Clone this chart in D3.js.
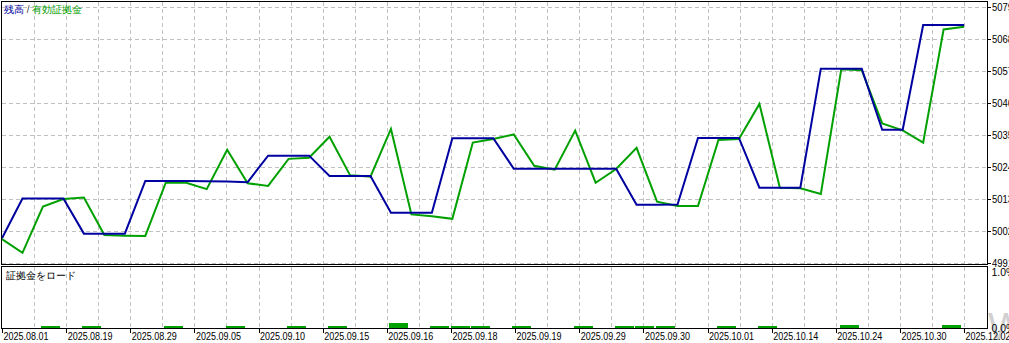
<!DOCTYPE html>
<html>
<head>
<meta charset="utf-8">
<script src="https://cdn.jsdelivr.net/npm/d3@7"></script>
<style>
  html, body { margin: 0; padding: 0; background: #fff; overflow: hidden; }
  svg { display: block; }
  text { font-family: "Liberation Sans", "DejaVu Sans", sans-serif; }
</style>
</head>
<body>
<svg id="chart" width="1009" height="343"></svg>
<script>
// balance / equity per deal point
const balance = [
  4999.6, 5013.3, 5013.3, 5013.3, 5001.2, 5001.2, 5001.2, 5019.3, 5019.3, 5019.3,
  5019.2, 5019.1, 5018.9, 5028.0, 5028.0, 5028.0, 5021.0, 5021.0, 5021.0, 5008.4,
  5008.4, 5008.4, 5034.0, 5034.0, 5034.0, 5023.5, 5023.5, 5023.5, 5023.5, 5023.5,
  5023.5, 5011.1, 5011.1, 5011.2, 5034.1, 5034.1, 5034.1, 5017.0, 5017.0, 5017.0,
  5057.9, 5057.9, 5057.9, 5036.9, 5036.9, 5072.9, 5072.9, 5072.9
];
const equity = [
  4999.3, 4994.6, 5010.5, 5013.1, 5013.6, 5000.7, 5000.5, 5000.4, 5018.7, 5018.7,
  5016.5, 5030.0, 5018.5, 5017.6, 5026.9, 5027.3, 5034.5, 5021.3, 5020.8, 5037.2,
  5007.8, 5007.2, 5006.3, 5032.5, 5033.7, 5035.3, 5024.5, 5023.2, 5036.6, 5018.7,
  5023.4, 5030.7, 5012.2, 5010.7, 5010.7, 5033.4, 5033.7, 5045.8, 5017.0, 5016.8,
  5014.8, 5057.7, 5057.4, 5039.1, 5036.7, 5032.5, 5071.4, 5072.3
];
// deposit load (%) at deal points
const loadIdx = [2, 4, 8, 11, 14, 16, 19, 21, 22, 23, 25, 28, 30, 31, 32, 35, 37, 41, 46];
const loadVal = [0.036, 0.036, 0.036, 0.036, 0.036, 0.036, 0.09, 0.036, 0.036, 0.036,
                 0.036, 0.036, 0.036, 0.036, 0.036, 0.036, 0.036, 0.054, 0.054];

const yTicks = [4991, 5002, 5013, 5024, 5035, 5046, 5057, 5068, 5079];
const dateLabels = [
  "2025.08.01", "2025.08.19", "2025.08.29", "2025.09.05", "2025.09.10", "2025.09.15",
  "2025.09.16", "2025.09.18", "2025.09.19", "2025.09.29", "2025.09.30", "2025.10.01",
  "2025.10.14", "2025.10.24", "2025.10.30", "2025.12.02"
];
const loadTicks = [0, 1];

const blue = '#0000a0', green = '#00a000', gridCol = '#c0c0c0';
const L = 1.5, R = 987.5;
const mainTop = 1.5, mainBot = 264.5;
const subTop = 266.5, subBot = 328.5;

const svg = d3.select('#chart');
const n = balance.length - 1;

const x = d3.scaleLinear().domain([0, n]).range([2, 964.1]);
const y = d3.scaleLinear().domain([4991, 5079]).range([263.3, 7.3]);
const yl = d3.scaleLinear().domain([0, 1]).range([328, 272]);

// grid positions every half label step
const labelStep = n / (dateLabels.length - 1);
const gridIdx = d3.range(1, (dateLabels.length - 1) * 2 + 1).map(j => j * labelStep / 2);

// ---- grids ----
const grid = svg.append('g')
  .attr('stroke', gridCol)
  .attr('stroke-dasharray', '4,3')
  .attr('shape-rendering', 'crispEdges');

grid.selectAll('line.h')
  .data(yTicks)
  .join('line')
    .attr('x1', L).attr('x2', R)
    .attr('y1', d => Math.round(y(d)) + 0.5)
    .attr('y2', d => Math.round(y(d)) + 0.5);

grid.selectAll('line.v')
  .data(gridIdx)
  .join('line')
    .attr('class', 'v')
    .attr('x1', d => Math.round(x(d)) + 0.5)
    .attr('x2', d => Math.round(x(d)) + 0.5)
    .attr('y1', mainTop).attr('y2', mainBot);

grid.selectAll('line.vs')
  .data(gridIdx)
  .join('line')
    .attr('class', 'vs')
    .attr('x1', d => Math.round(x(d)) + 0.5)
    .attr('x2', d => Math.round(x(d)) + 0.5)
    .attr('y1', subTop).attr('y2', subBot);

// ---- lines ----
const line = d3.line()
  .x((d, i) => x(i))
  .y(d => y(d));

svg.append('path')
  .datum(equity)
  .attr('fill', 'none')
  .attr('stroke', green)
  .attr('stroke-width', 2)
  .attr('d', line);

svg.append('path')
  .datum(balance)
  .attr('fill', 'none')
  .attr('stroke', blue)
  .attr('stroke-width', 2)
  .attr('d', line);

// ---- deposit load bars ----
const barW = x(1) - x(0) - 1.5;
svg.append('g')
  .attr('fill', green)
  .attr('shape-rendering', 'crispEdges')
  .selectAll('rect')
  .data(loadIdx.map((d, i) => ({ i: d, v: loadVal[i] })))
  .join('rect')
    .attr('x', d => x(d.i) - 1.5)
    .attr('width', barW)
    .attr('y', d => yl(d.v))
    .attr('height', d => yl(0) - yl(d.v));

// ---- frames ----
const frames = svg.append('g')
  .attr('fill', 'none')
  .attr('stroke', '#000')
  .attr('shape-rendering', 'crispEdges');
frames.append('rect').attr('x', L).attr('y', mainTop).attr('width', R - L).attr('height', mainBot - mainTop);
frames.append('rect').attr('x', L).attr('y', subTop).attr('width', R - L).attr('height', subBot - subTop);

// ---- right axis labels ----
const rAxis = svg.append('g');
rAxis.selectAll('line')
  .data(yTicks)
  .join('line')
    .attr('stroke', '#000')
    .attr('shape-rendering', 'crispEdges')
    .attr('x1', R).attr('x2', R + 3)
    .attr('y1', d => Math.round(y(d)) + 0.5)
    .attr('y2', d => Math.round(y(d)) + 0.5);
rAxis.selectAll('text')
  .data(yTicks)
  .join('text')
    .attr('x', R + 4.5)
    .attr('y', d => y(d) + 4)
    .attr('font-size', 10.5)
    .attr('textLength', 21)
    .attr('lengthAdjust', 'spacingAndGlyphs')
    .attr('fill', '#000')
    .text(d => d);

// watermark
svg.append('text')
  .attr('x', 988).attr('y', 340)
  .attr('font-size', 38)
  .attr('font-family', 'DejaVu Sans')
  .attr('font-weight', 200)
  .attr('fill', '#d0d0d0')
  .text('W');

svg.selectAll('text.load')
  .data(loadTicks)
  .join('text')
    .attr('class', 'load')
    .attr('x', R + 4)
    .attr('y', d => yl(d) + 4)
    .attr('font-size', 10.5)
    .attr('fill', '#000')
    .text(d => d.toFixed(1) + '%');

// ---- bottom time labels ----
const bAxis = svg.append('g');
bAxis.selectAll('line')
  .data(dateLabels)
  .join('line')
    .attr('stroke', '#000')
    .attr('shape-rendering', 'crispEdges')
    .attr('x1', (d, i) => Math.round(x(i * labelStep)) + 0.5)
    .attr('x2', (d, i) => Math.round(x(i * labelStep)) + 0.5)
    .attr('y1', subBot).attr('y2', subBot + 4);
bAxis.selectAll('text')
  .data(dateLabels)
  .join('text')
    .attr('x', (d, i) => x(i * labelStep) + 1.5)
    .attr('y', 340)
    .attr('font-size', 11)
    .attr('textLength', 45)
    .attr('lengthAdjust', 'spacingAndGlyphs')
    .attr('fill', '#000')
    .text(d => d);

// ---- titles ----
const jp = '"Noto Sans CJK JP", "Noto Sans", sans-serif';
const title = svg.append('text')
  .attr('x', 4).attr('y', 13)
  .attr('font-size', 10)
  .attr('font-weight', 500)
  .attr('font-family', jp);
title.append('tspan').attr('fill', blue).text('残高');
title.append('tspan').attr('fill', '#444').text(' / ');
title.append('tspan').attr('fill', green).text('有効証拠金');

svg.append('text')
  .attr('x', 6).attr('y', 279)
  .attr('font-size', 10)
  .attr('font-weight', 500)
  .attr('font-family', jp)
  .attr('fill', '#000')
  .text('証拠金をロード');
</script>
</body>
</html>
